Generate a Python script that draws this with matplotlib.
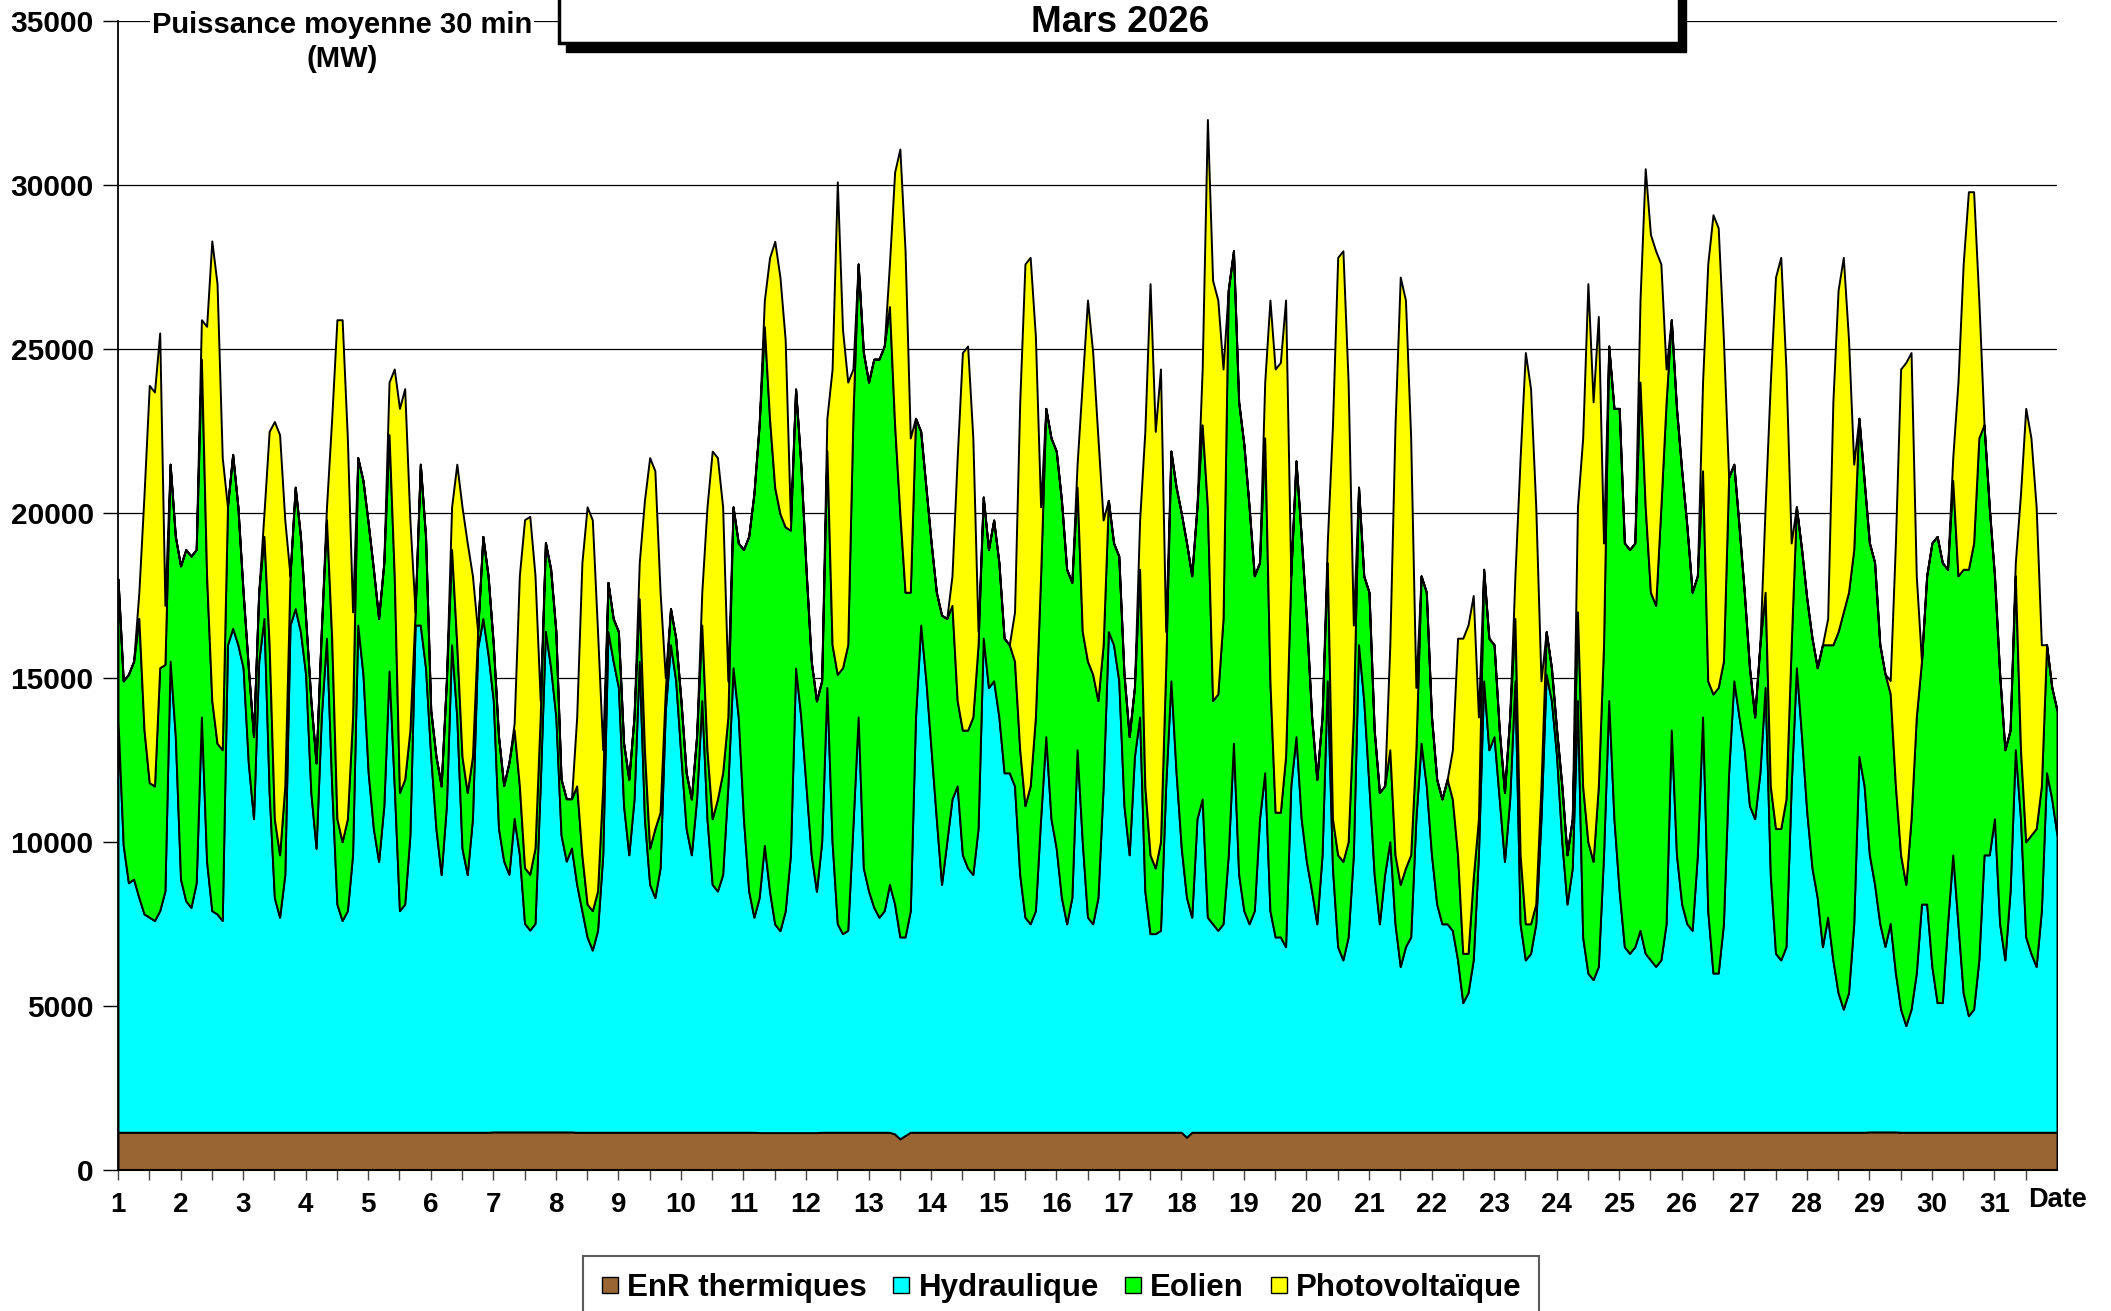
import matplotlib
matplotlib.use("Agg")
import matplotlib.pyplot as plt
from matplotlib.patches import Rectangle
from matplotlib.lines import Line2D

# ---------------- data (MW, mean 30-min power, sampled every 2 h) ----------------
days = list(range(1, 32))
hours = [0, 2, 4, 6, 8, 10, 12, 14, 16, 18, 20, 22]
day_labels = [str(d) for d in days]
series_names = ["EnR thermiques", "Hydraulique", "Eolien", "Photovoltaïque"]
series_colors = ["#996633", "#00FFFF", "#00FF00", "#FFFF00"]

thermique = [
    [1150, 1150, 1150, 1150, 1150, 1150, 1150, 1150, 1150, 1150, 1150, 1150],
    [1150, 1150, 1150, 1150, 1150, 1150, 1150, 1150, 1150, 1150, 1150, 1150],
    [1150, 1150, 1150, 1150, 1150, 1150, 1150, 1150, 1150, 1150, 1150, 1150],
    [1150, 1150, 1150, 1150, 1150, 1150, 1150, 1150, 1150, 1150, 1150, 1150],
    [1150, 1150, 1150, 1150, 1150, 1150, 1150, 1150, 1150, 1150, 1150, 1150],
    [1150, 1150, 1150, 1150, 1150, 1150, 1150, 1150, 1150, 1150, 1150, 1150],
    [1160, 1160, 1160, 1160, 1160, 1160, 1160, 1160, 1160, 1160, 1160, 1160],
    [1160, 1160, 1160, 1160, 1150, 1150, 1150, 1150, 1150, 1150, 1150, 1150],
    [1150, 1150, 1150, 1150, 1150, 1150, 1150, 1150, 1150, 1150, 1150, 1150],
    [1150, 1150, 1150, 1150, 1150, 1150, 1150, 1150, 1150, 1150, 1150, 1150],
    [1150, 1150, 1150, 1140, 1140, 1140, 1140, 1140, 1140, 1140, 1140, 1140],
    [1140, 1140, 1140, 1150, 1150, 1150, 1150, 1150, 1150, 1150, 1150, 1150],
    [1150, 1150, 1150, 1150, 1150, 1100, 950, 1050, 1150, 1150, 1150, 1150],
    [1150, 1150, 1150, 1150, 1150, 1150, 1150, 1150, 1150, 1150, 1150, 1150],
    [1150, 1150, 1150, 1150, 1150, 1150, 1150, 1150, 1150, 1150, 1150, 1150],
    [1150, 1150, 1150, 1150, 1150, 1150, 1150, 1150, 1150, 1150, 1150, 1150],
    [1150, 1150, 1150, 1150, 1150, 1150, 1150, 1150, 1150, 1150, 1150, 1150],
    [1150, 1000, 1150, 1150, 1150, 1150, 1150, 1150, 1150, 1150, 1150, 1150],
    [1150, 1150, 1150, 1150, 1150, 1150, 1150, 1150, 1150, 1150, 1150, 1150],
    [1150, 1150, 1150, 1150, 1150, 1150, 1150, 1150, 1150, 1150, 1150, 1150],
    [1150, 1150, 1150, 1150, 1150, 1150, 1150, 1150, 1150, 1150, 1150, 1150],
    [1150, 1150, 1150, 1150, 1150, 1150, 1150, 1150, 1150, 1150, 1150, 1150],
    [1150, 1150, 1150, 1150, 1150, 1150, 1150, 1150, 1150, 1150, 1150, 1150],
    [1150, 1150, 1150, 1150, 1150, 1150, 1150, 1150, 1150, 1150, 1150, 1150],
    [1150, 1150, 1150, 1150, 1150, 1150, 1150, 1150, 1150, 1150, 1150, 1150],
    [1150, 1150, 1150, 1150, 1150, 1150, 1150, 1150, 1150, 1150, 1150, 1150],
    [1150, 1150, 1150, 1150, 1150, 1150, 1150, 1150, 1150, 1150, 1150, 1150],
    [1150, 1150, 1150, 1150, 1150, 1150, 1150, 1150, 1150, 1150, 1150, 1150],
    [1160, 1160, 1160, 1160, 1160, 1160, 1150, 1150, 1150, 1150, 1150, 1150],
    [1150, 1150, 1150, 1150, 1150, 1150, 1150, 1150, 1150, 1150, 1150, 1150],
    [1150, 1150, 1150, 1150, 1150, 1150, 1150, 1150, 1150, 1150, 1150, 1150],
]

hydraulique = [
    [12550, 8750, 7600, 7710, 7150, 6650, 6550, 6450, 6750, 7350, 14350, 12050],
    [7710, 7050, 6850, 7600, 12650, 8250, 6750, 6650, 6450, 14850, 15350, 14850],
    [14150, 11250, 9550, 14350, 15650, 10350, 7150, 6550, 7850, 15450, 15950, 15250],
    [13950, 10350, 8650, 12650, 15050, 10550, 6950, 6450, 6750, 8450, 15450, 13950],
    [10950, 9250, 8250, 9950, 14050, 10550, 6750, 6950, 9050, 15450, 15450, 14150],
    [11450, 9250, 7850, 9950, 14850, 12650, 8650, 7850, 9550, 14750, 15650, 14550],
    [13150, 9250, 8250, 7850, 9550, 8450, 6350, 6150, 6350, 10550, 15250, 14150],
    [12650, 9050, 8250, 8650, 7550, 6750, 5950, 5550, 6150, 8450, 15250, 14350],
    [13550, 9950, 8450, 10150, 14350, 9550, 7550, 7150, 8050, 12850, 14850, 13750],
    [11450, 9250, 8450, 10150, 13150, 9550, 7550, 7350, 7850, 10550, 14150, 12650],
    [9550, 7350, 6550, 7150, 8750, 7350, 6350, 6150, 6750, 8450, 14150, 12650],
    [10550, 8450, 7350, 8850, 13550, 8850, 6350, 6050, 6150, 9350, 12650, 8050],
    [7350, 6850, 6550, 6750, 7550, 7000, 6150, 6050, 6750, 12650, 15450, 13750],
    [11650, 9550, 7550, 8850, 10150, 10550, 8450, 8050, 7850, 9250, 15050, 13550],
    [13750, 12650, 10950, 10950, 10550, 7850, 6550, 6350, 6750, 9550, 12050, 9550],
    [8650, 7150, 6350, 7150, 11650, 8850, 6550, 6350, 7150, 10550, 15250, 14850],
    [13750, 9950, 8450, 11450, 12650, 7350, 6050, 6050, 6150, 10550, 13750, 10950],
    [8650, 7300, 6550, 9550, 10150, 6550, 6350, 6150, 6350, 8450, 11850, 7850],
    [6750, 6350, 6750, 9550, 10950, 6750, 5950, 5950, 5650, 10550, 12050, 9550],
    [8250, 7350, 6350, 8450, 13750, 8050, 5650, 5250, 5950, 8450, 14850, 13150],
    [10550, 7850, 6350, 7850, 8850, 6350, 5050, 5650, 5950, 9550, 11850, 10550],
    [8450, 6950, 6350, 6350, 6150, 5250, 3950, 4250, 5250, 8450, 13750, 11650],
    [12050, 10150, 8250, 10150, 13750, 6350, 5250, 5450, 6350, 9550, 13950, 13150],
    [11450, 8850, 6950, 8050, 13150, 5950, 4850, 4650, 5050, 8450, 13150, 9550],
    [7350, 5650, 5450, 5650, 6150, 5450, 5250, 5050, 5250, 6350, 12250, 8450],
    [6950, 6350, 6150, 8450, 12650, 6750, 4850, 4850, 6350, 10950, 13750, 12650],
    [11650, 9950, 9550, 10950, 13550, 7850, 5450, 5250, 5650, 10550, 14150, 12050],
    [9750, 8050, 7150, 5650, 6550, 5250, 4250, 3750, 4250, 6350, 11450, 10550],
    [8450, 7550, 6350, 5650, 6350, 4850, 3750, 3250, 3750, 4850, 6950, 6950],
    [5050, 3950, 3950, 6350, 8450, 6350, 4250, 3550, 3750, 5250, 8450, 8450],
    [9550, 6350, 5250, 7350, 11650, 9550, 5950, 5450, 5050, 6750, 10950, 10150],
]

eolien = [
    [4300, 5000, 6350, 6640, 8500, 5600, 4100, 4100, 7400, 6900, 6000, 6100],
    [9540, 10700, 10700, 10150, 10900, 8700, 6400, 5200, 5200, 4200, 5300, 4200],
    [2300, 2900, 2500, 2100, 2500, 4500, 2400, 1900, 2700, 1500, 3700, 2900],
    [1700, 2800, 2600, 2600, 3600, 4500, 2600, 2400, 2800, 4200, 5100, 5900],
    [7600, 7900, 7400, 7400, 7200, 6400, 3600, 3800, 3200, 400, 4900, 4000],
    [1400, 2200, 2700, 3800, 2900, 2200, 2800, 2500, 1900, 500, 2500, 2400],
    [1700, 2800, 2300, 3400, 2700, 2100, 1700, 1700, 2300, 2100, 2700, 3000],
    [2600, 1700, 1900, 1500, 3000, 1700, 1000, 1200, 1200, 2100, 1500, 1300],
    [1700, 1900, 2300, 2500, 1900, 2100, 1100, 2100, 1700, 600, 1100, 1300],
    [1700, 1700, 1700, 1900, 2300, 2100, 2000, 2800, 3100, 2100, 4900, 5300],
    [8200, 10800, 12900, 14400, 15800, 14400, 13300, 12700, 11700, 9900, 8500, 7700],
    [6600, 5900, 5800, 4900, 7200, 6000, 7600, 8100, 8700, 12500, 13800, 15700],
    [15500, 16700, 17000, 17200, 17600, 14600, 12900, 10500, 9700, 9100, 5900, 5900],
    [6300, 6900, 8200, 6800, 5900, 2600, 3800, 4200, 4800, 5600, 4300, 4200],
    [4900, 4700, 4100, 3900, 3800, 3800, 3400, 4200, 5900, 7400, 10000, 11600],
    [12100, 12100, 10800, 9600, 8000, 6400, 7800, 7600, 6000, 4300, 4000, 3100],
    [3800, 4000, 3600, 2100, 4500, 3200, 2400, 2000, 2700, 3600, 7000, 8700],
    [10200, 10800, 10400, 9500, 11400, 12500, 6800, 7200, 9300, 17200, 15000, 14400],
    [14200, 12700, 10200, 7800, 10200, 7000, 3800, 3800, 5800, 6400, 8400, 8600],
    [7400, 5300, 4400, 4200, 3600, 1500, 2800, 3000, 2900, 4200, 4800, 3800],
    [5900, 4400, 4000, 2700, 2800, 2100, 2500, 2400, 2500, 2100, 5100, 5900],
    [4200, 3800, 3800, 4400, 4000, 3200, 1500, 1200, 2500, 1100, 3400, 3400],
    [2800, 2100, 2100, 2500, 1900, 2100, 1100, 900, 600, 1000, 1300, 1000],
    [800, 1700, 1500, 1500, 2700, 4600, 4000, 3600, 5500, 6400, 10800, 12500],
    [14700, 12300, 12300, 12300, 16700, 13600, 11200, 11000, 13800, 15900, 12500, 13600],
    [13200, 12100, 10300, 8500, 7500, 7000, 8500, 8700, 8000, 9000, 6600, 5800],
    [4800, 4200, 3100, 3900, 2900, 2700, 3800, 4000, 4500, 4300, 4900, 5700],
    [6500, 7000, 7000, 9200, 8300, 9600, 11000, 12100, 12200, 11400, 10300, 9300],
    [9500, 9800, 8500, 8300, 7000, 5700, 4700, 4300, 5800, 7800, 7400, 10000],
    [12900, 14200, 13400, 10800, 11400, 10600, 12900, 13600, 14200, 15900, 13100, 10600],
    [7400, 7600, 6400, 4900, 5300, 2100, 2900, 3600, 4200, 3800, 3900, 3400],
]

photovoltaique = [
    [0, 0, 0, 0, 800, 7200, 12100, 12000, 10200, 1800, 0, 0],
    [0, 0, 0, 0, 1200, 7600, 14000, 14000, 8900, 0, 0, 0],
    [0, 0, 0, 0, 700, 6500, 12100, 12800, 8100, 0, 0, 0],
    [0, 0, 0, 0, 400, 6700, 15200, 15900, 11600, 3200, 0, 0],
    [0, 0, 0, 0, 1600, 6300, 11700, 11900, 6400, 0, 0, 0],
    [0, 0, 0, 0, 1300, 5500, 7600, 7600, 5500, 0, 0, 0],
    [0, 0, 0, 0, 200, 6400, 10600, 10900, 8300, 500, 0, 0],
    [0, 0, 0, 0, 2100, 8900, 12100, 11900, 7900, 1100, 0, 0],
    [0, 0, 0, 0, 1100, 7600, 11900, 10900, 6700, 400, 0, 0],
    [0, 0, 0, 0, 1000, 7400, 11200, 10400, 8100, 1100, 0, 0],
    [0, 0, 0, 0, 800, 4900, 7500, 7200, 5700, 300, 0, 0],
    [0, 0, 0, 0, 1000, 8400, 15000, 10300, 8000, 1400, 0, 0],
    [0, 0, 0, 0, 1300, 7700, 11100, 10400, 4700, 0, 0, 0],
    [0, 0, 0, 0, 900, 7400, 11500, 11700, 8500, 400, 0, 0],
    [0, 0, 0, 0, 1500, 10600, 16500, 16100, 11600, 2100, 0, 0],
    [0, 0, 0, 0, 700, 7600, 11000, 9800, 8000, 3800, 0, 0],
    [0, 0, 0, 0, 1500, 10800, 17400, 13300, 14400, 1100, 0, 0],
    [0, 0, 0, 0, 1700, 11800, 12800, 12000, 7600, 0, 0, 0],
    [0, 0, 0, 0, 1700, 11600, 13500, 13700, 13900, 0, 0, 0],
    [0, 0, 0, 0, 600, 12000, 18200, 18600, 14000, 2800, 0, 0],
    [0, 0, 0, 0, 3200, 13100, 18500, 17300, 12700, 1900, 0, 0],
    [0, 0, 0, 0, 1500, 6600, 9600, 10000, 8600, 3100, 0, 0],
    [0, 0, 0, 0, 1300, 12100, 17400, 16300, 12100, 3200, 0, 0],
    [0, 0, 0, 0, 3200, 10600, 17000, 14000, 14300, 3100, 0, 0],
    [0, 0, 0, 0, 2500, 10300, 10900, 10800, 7400, 1000, 0, 0],
    [0, 0, 0, 0, 2700, 12700, 14600, 14000, 9800, 0, 0, 0],
    [0, 0, 0, 0, 2600, 12300, 16800, 17400, 13100, 3100, 0, 0],
    [0, 0, 0, 0, 800, 7400, 10400, 10800, 7700, 2600, 0, 0],
    [0, 0, 0, 0, 400, 7400, 14800, 15900, 14200, 4300, 0, 0],
    [0, 0, 0, 0, 700, 5900, 9300, 11500, 10700, 4200, 0, 0],
    [0, 0, 0, 0, 400, 7800, 13200, 12100, 9800, 4300, 0, 0],
]

# value at 1 April 00:00 (closes the last day)
end_values = [1150, 9050, 3800, 0]

yticks = [0, 5000, 10000, 15000, 20000, 25000, 30000, 35000]

# ---------------- build time axis ----------------
x = [d + h / 24.0 for d in days for h in hours] + [days[-1] + 1]

def flat(rows, last):
    return [v for r in rows for v in r] + [last]

stacks = [flat(thermique, end_values[0]), flat(hydraulique, end_values[1]),
          flat(eolien, end_values[2]), flat(photovoltaique, end_values[3])]

# ---------------- figure ----------------
W, H = 2111, 1311
fig = plt.figure(figsize=(W / 100, H / 100), dpi=100)
FONT = ["Liberation Sans", "DejaVu Sans"]
plt.rcParams["font.family"] = FONT
plt.rcParams["font.weight"] = "bold"

ax = fig.add_axes([118 / W, 1 - 1170 / H, (2057 - 118) / W, (1170 - 21) / H])
ax.set_facecolor("white")
ax.set_axisbelow(True)
ax.grid(axis="y", color="black", linewidth=0.9)
ax.stackplot(x, *stacks, colors=series_colors, edgecolor="black",
             linewidth=1.4, zorder=2)

ax.set_xlim(days[0], days[-1] + 1)
ax.set_ylim(0, 35000)
ax.set_yticks(yticks)
ax.set_yticklabels([str(v) for v in yticks], fontsize=21.5, fontweight="bold")
ax.set_xticks(days)
ax.set_xticklabels(day_labels, fontsize=20, fontweight="bold")
ax.set_xticks([d + 0.5 for d in days], minor=True)
ax.tick_params(axis="x", which="both", direction="out", length=7, width=1,
               color="#444444", pad=9)
ax.tick_params(axis="y", which="major", direction="out", length=11, width=1,
               pad=6.5)
for side in ("top", "right"):
    ax.spines[side].set_visible(False)
ax.spines["left"].set_linewidth(1.3)
ax.spines["bottom"].set_linewidth(1.5)

ax.text(1.0, -0.026, "Date", transform=ax.transAxes, ha="center", va="center",
        fontsize=19.5, fontweight="bold")

# y-axis title
fig.text(342 / W, 1 - 42 / H, "Puissance moyenne 30 min\n(MW)", ha="center",
         va="center", fontsize=21, fontweight="bold", linespacing=1.25,
         bbox=dict(facecolor="white", edgecolor="none", pad=1.5), zorder=5)

# title box with shadow
shadow = Rectangle((566 / W, 1 - 52 / H), (1686 - 566) / W, 60 / H,
                   transform=fig.transFigure, facecolor="black",
                   edgecolor="black", zorder=4)
box = Rectangle((559 / W, 1 - 43 / H), (1679 - 559) / W, 60 / H,
                transform=fig.transFigure, facecolor="white",
                edgecolor="black", linewidth=2.5, zorder=5)
fig.patches.extend([shadow, box])
fig.text(1120 / W, 1 - 23 / H, "Mars 2026", ha="center", va="center",
         fontsize=26.5, fontweight="bold", zorder=6)

# legend
handles = [Line2D([], [], linestyle="none", marker="s", markersize=11,
                  markerfacecolor=c, markeredgecolor="black",
                  markeredgewidth=1.0) for c in series_colors]
leg = fig.legend(handles, series_names, loc="upper center",
                 bbox_to_anchor=(1061 / W, 1 - 1256 / H), ncol=4,
                 frameon=True, fancybox=False, edgecolor="#333333",
                 handlelength=0.6, handletextpad=0.25, columnspacing=0.8,
                 borderpad=0.55, borderaxespad=0.0,
                 prop={"size": 22.5, "weight": "bold"})
leg.get_frame().set_linewidth(1.5)

fig.savefig("out.png", dpi=100, facecolor="white")
